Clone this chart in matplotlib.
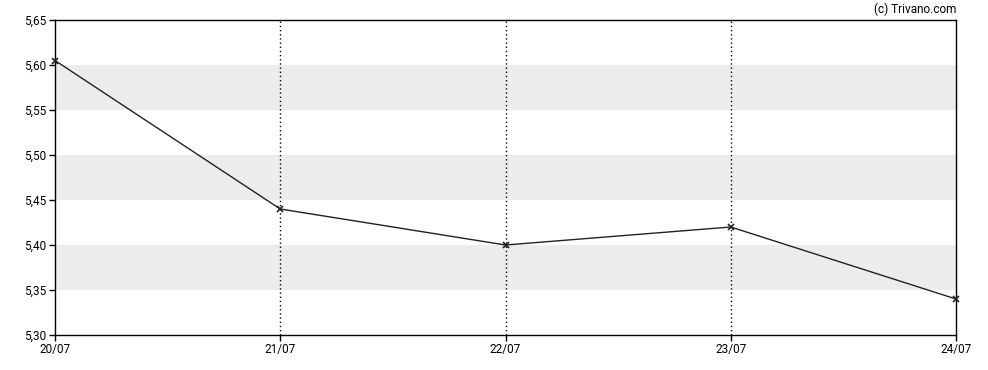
import matplotlib
matplotlib.use("Agg")
import matplotlib.pyplot as plt

dates = ["20/07", "21/07", "22/07", "23/07", "24/07"]
prices = [5.605, 5.44, 5.40, 5.42, 5.34]
yticks = [5.30, 5.35, 5.40, 5.45, 5.50, 5.55, 5.60, 5.65]
bands = [(5.35, 5.40), (5.45, 5.50), (5.55, 5.60)]

plt.rcParams['font.family'] = ['Roboto', 'DejaVu Sans']
fig = plt.figure(figsize=(9.88, 3.70), dpi=100)
ax = fig.add_axes([55/988, 1-335/370, (956-55)/988, (335-20)/370])

x = list(range(len(dates)))
for lo, hi in bands:
    ax.axhspan(lo, hi, color='#ececec', lw=0, zorder=0)
for xi in x[1:-1]:
    ax.axvline(xi, color='black', lw=1, ls=(0, (1, 2)), zorder=1)
ax.plot(x, prices, color='#222222', lw=1, marker='x', ms=4, mew=1.2, zorder=3, clip_on=False)

ax.set_xlim(0, len(dates)-1)
ax.set_ylim(5.30, 5.65)
ax.set_xticks(x)
ax.set_xticklabels(dates)
ax.set_yticks(yticks)
ax.set_yticklabels([f"{v:.2f}".replace('.', ',') for v in yticks])
ax.tick_params(direction='out', length=4, width=1, labelsize=8.5, colors='black', pad=2)
for s in ax.spines.values():
    s.set_linewidth(1)
fig.text(956/988, 1-9/370, "(c) Trivano.com", ha='right', va='center', fontsize=8.5)
fig.savefig("out.png", dpi=100)
